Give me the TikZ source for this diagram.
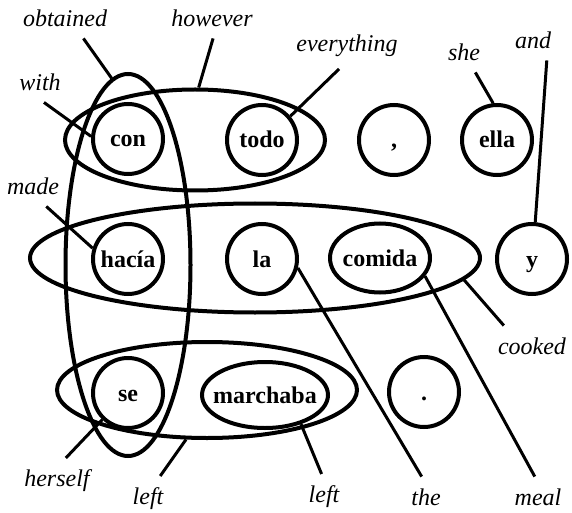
\documentclass[tikz,border=0pt]{standalone}
\usepackage{fontspec}
\setmainfont{Liberation Serif}
\usetikzlibrary{shapes.geometric}

\begin{document}
\begin{tikzpicture}[x=0.5pt,y=-0.5pt,
  word/.style={circle,draw,line width=2pt,minimum size=35pt,inner sep=0pt,text height=8pt,text depth=0pt,font=\fontsize{12}{14}\selectfont\bfseries},
  blob/.style={ellipse,draw,line width=2pt,inner xsep=-6pt,inner ysep=0pt,text height=8pt,text depth=0pt,font=\fontsize{12}{14}\selectfont\bfseries},
  group/.style={ellipse,draw,line width=2pt,inner sep=0pt},
  gloss/.style={font=\fontsize{12}{14}\selectfont\itshape,inner sep=2pt,outer sep=4pt},
  tie/.style={line width=1.5pt}]
 \useasboundingbox (0,0) rectangle (572,513);
 % words
 \node[word] (con) at (128,139) {con};
 \node[word] (todo) at (262,140) {todo};
 \node[word] (comma) at (394,140) {,};
 \node[word] (ella) at (497,140) {ella};
 \node[word] (hacia) at (128,259) {hacía};
 \node[word] (la) at (262,259) {la};
 \node[blob,minimum width=50pt,minimum height=34.5pt] (comida) at (380,258) {comida};
 \node[word] (y) at (532,259) {y};
 \node[word] (se) at (128,393) {se};
 \node[blob,minimum width=63pt,minimum height=33pt] (marchaba) at (265,395) {marchaba};
 \node[word] (stop) at (424,392) {.};
 % phrases
 \node[group,minimum width=130pt,minimum height=50.5pt] (contodo) at (195,140) {};
 \node[group,minimum width=225pt,minimum height=54.5pt] (haciacomida) at (255,258) {};
 \node[group,minimum width=150pt,minimum height=48pt] (semarchaba) at (207,390) {};
 \node[group,minimum width=62.5pt,minimum height=191pt] (conhaciase) at (128,265) {};
 % glosses
 \node[gloss] (obtained) at (65,18) {obtained};
 \node[gloss] (however) at (212,18) {however};
 \node[gloss] (with) at (40,82) {with};
 \node[gloss] (made) at (33,186) {made};
 \node[gloss] (everything) at (347,46) {everything};
 \node[gloss] (she) at (464,52) {she};
 \node[gloss] (and) at (533,40) {and};
 \node[gloss] (cooked) at (532,346) {cooked};
 \node[gloss] (herself) at (57,481) {herself};
 \node[gloss] (left1) at (148,499) {left};
 \node[gloss] (left2) at (324,497) {left};
 \node[gloss] (the) at (426,497) {the};
 \node[gloss] (meal) at (538,497) {meal};
 \draw[tie] (obtained.-48) -- (conhaciase.95);
 \draw[tie] (however.-87) -- (contodo.86);
 \draw[tie] (with.-79) -- (con.176);
 \draw[tie] (made.-57) -- (hacia.163);
 \draw[tie] (everything.-109) -- (todo.40);
 \draw[tie] (she.-61) -- (ella.96);
 \draw[tie] (and.-56) -- (y.85);
 \draw[tie] (cooked.144) -- (haciacomida.-6);
 \draw[tie] (herself.69) -- (se.-134);
 \draw[tie] (left1.62) -- (semarchaba.-113);
 \draw[tie] (left2.96) -- (marchaba.-39);
 \draw[tie] (the.102) -- (la.-14);
 \draw[tie] (meal.99) -- (comida.-22);
\end{tikzpicture}
\end{document}
